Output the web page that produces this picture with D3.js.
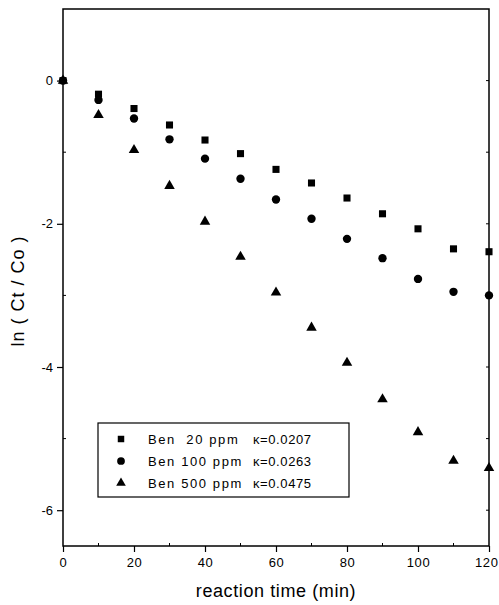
<!DOCTYPE html>
<html>
<head>
<meta charset="utf-8">
<script src="https://cdn.jsdelivr.net/npm/d3@7"></script>
<style>
  body { margin: 0; background: #fff; }
  svg { font-family: "Liberation Sans", Arial, sans-serif; }
</style>
</head>
<body>
<div id="chart"></div>
<script>
// reaction time (min)
const times = [0, 10, 20, 30, 40, 50, 60, 70, 80, 90, 100, 110, 120];
// ln(Ct/Co)
const ben20  = [0, -0.19, -0.39, -0.62, -0.83, -1.02, -1.24, -1.43, -1.64, -1.86, -2.07, -2.35, -2.39];
const ben100 = [0, -0.27, -0.53, -0.82, -1.09, -1.37, -1.66, -1.93, -2.21, -2.48, -2.77, -2.95, -3.0];
const ben500 = [0, -0.48, -0.97, -1.47, -1.97, -2.46, -2.96, -3.45, -3.94, -4.45, -4.91, -5.31, -5.41];
const seriesNames = ["Ben  20 ppm", "Ben 100 ppm", "Ben 500 ppm"];
const kappas = ["\u03ba=0.0207", "\u03ba=0.0263", "\u03ba=0.0475"];
const xTicks = [0, 20, 40, 60, 80, 100, 120];
const yTicks = [-6, -4, -2, 0];

const W = 499, H = 605;
const margin = {top: 9, right: 10, bottom: 59, left: 63};
const width = W - margin.left - margin.right,
      height = H - margin.top - margin.bottom;

const svg = d3.select("#chart").append("svg")
  .attr("width", W).attr("height", H);
const g = svg.append("g")
  .attr("transform", "translate(" + margin.left + "," + margin.top + ")");

const x = d3.scaleLinear().domain([0, 120]).range([0, width]);
const y = d3.scaleLinear().domain([-6.5, 1]).range([height, 0]);

// frame
g.append("rect")
  .attr("width", width).attr("height", height)
  .attr("fill", "none").attr("stroke", "#000").attr("stroke-width", 1.5);

// bottom axis
const xAxis = g.append("g")
  .attr("transform", "translate(0," + height + ")")
  .call(d3.axisBottom(x).tickValues(xTicks).tickSize(6).tickPadding(6));
xAxis.select(".domain").remove();
xAxis.selectAll("text").attr("font-size", 13).attr("letter-spacing", 0.6)
  .attr("font-family", "Liberation Sans, Arial, sans-serif");
// last label sits at the window edge: keep it inside
xAxis.selectAll("text").filter(d => d === 120)
  .attr("text-anchor", "end").attr("dx", W - margin.left - width - 1);
xAxis.selectAll("line").attr("stroke-width", 1.2);
// minor x ticks (inside)
g.append("g").selectAll("line")
  .data(d3.range(10, 120, 20))
  .join("line")
  .attr("x1", d => x(d)).attr("x2", d => x(d))
  .attr("y1", height).attr("y2", height - 3)
  .attr("stroke", "#000");

// left axis
const yAxis = g.append("g")
  .call(d3.axisLeft(y).tickValues(yTicks).tickSize(6).tickPadding(4)
    .tickFormat(d => d));
yAxis.select(".domain").remove();
yAxis.selectAll("text").attr("font-size", 13)
  .attr("font-family", "Liberation Sans, Arial, sans-serif");
yAxis.selectAll("line").attr("stroke-width", 1.2);
g.append("g").selectAll("line")
  .data([-5, -3, -1])
  .join("line")
  .attr("x1", 0).attr("x2", 3)
  .attr("y1", d => y(d)).attr("y2", d => y(d))
  .attr("stroke", "#000");

// right mirror ticks
g.append("g").selectAll("line")
  .data(d3.range(-6, 1, 1))
  .join("line")
  .attr("x1", width).attr("x2", width - 3)
  .attr("y1", d => y(d)).attr("y2", d => y(d))
  .attr("stroke", "#000");

// axis titles
svg.append("text")
  .attr("x", 276).attr("y", 597)
  .attr("text-anchor", "middle")
  .attr("font-size", 18)
  .attr("letter-spacing", 0.6)
  .text("reaction time (min)");
svg.append("text")
  .attr("transform", "translate(24,291) rotate(-90)")
  .attr("text-anchor", "middle")
  .attr("font-size", 18)
  .attr("letter-spacing", 1)
  .style("white-space", "pre")
  .text("ln ( Ct / Co )");

// data
const symbols = [d3.symbolSquare, d3.symbolCircle, d3.symbolTriangle];
const sizes = [50, 55, 48];
const allSeries = [ben20, ben100, ben500];

allSeries.forEach((vals, si) => {
  g.append("g").selectAll("path")
    .data(times.map((t, i) => [t, vals[i]]))
    .join("path")
    .attr("transform", d => "translate(" + x(d[0]) + "," + y(d[1]) + ")")
    .attr("d", d3.symbol().type(symbols[si]).size(sizes[si]))
    .attr("fill", "#000");
});

// legend
const lg = svg.append("g").attr("transform", "translate(98,423)");
lg.append("rect")
  .attr("width", 251).attr("height", 74)
  .attr("fill", "#fff").attr("stroke", "#000").attr("stroke-width", 1.2);
seriesNames.forEach((name, i) => {
  const cy = 16 + i * 22;
  lg.append("path")
    .attr("transform", "translate(23," + cy + ")")
    .attr("d", d3.symbol().type(symbols[i]).size(sizes[i] - 8))
    .attr("fill", "#000");
  lg.append("text")
    .attr("x", 50).attr("y", cy + 5)
    .attr("font-size", 13)
    .attr("letter-spacing", 1.6)
    .style("white-space", "pre")
    .text(name);
  lg.append("text")
    .attr("x", 155).attr("y", cy + 5)
    .attr("font-size", 13)
    .attr("letter-spacing", 0.6)
    .text(kappas[i]);
});
</script>
</body>
</html>
